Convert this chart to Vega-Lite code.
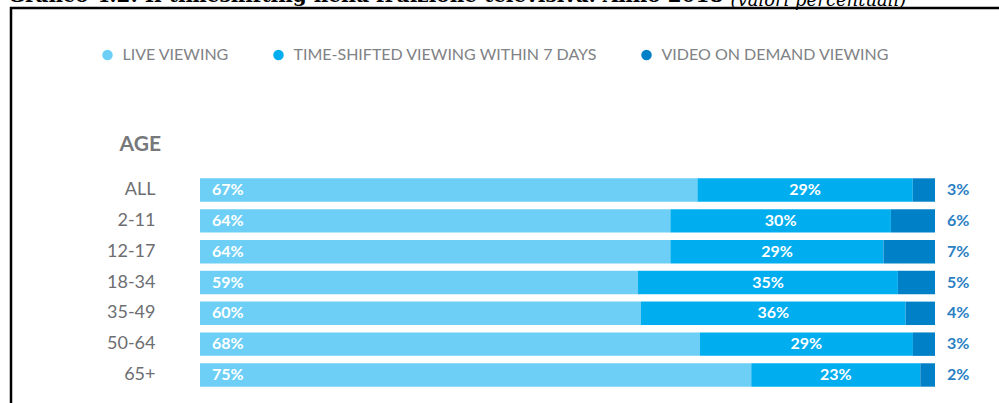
{
  "$schema": "https://vega.github.io/schema/vega-lite/v6.json",
  "autosize": {"type": "none"},
  "padding": {"left": 11, "top": 8, "right": -12, "bottom": -25},
  "width": 1000,
  "height": 420,
  "background": "white",
  "title": {
    "text": "Grafico 4.2: Il timeshifting nella fruizione televisiva. Anno 2018",
    "anchor": "start",
    "frame": "group",
    "font": "DejaVu Serif",
    "fontSize": 20,
    "fontWeight": "bold",
    "color": "#000000",
    "baseline": "alphabetic",
    "offset": -31,
    "dx": -3
  },
  "data": {
    "values": [
      {"age": "ALL", "category": "LIVE VIEWING", "pct": 0.67},
      {"age": "ALL", "category": "TIME-SHIFTED VIEWING WITHIN 7 DAYS", "pct": 0.29},
      {"age": "ALL", "category": "VIDEO ON DEMAND VIEWING", "pct": 0.03},
      {"age": "2-11", "category": "LIVE VIEWING", "pct": 0.64},
      {"age": "2-11", "category": "TIME-SHIFTED VIEWING WITHIN 7 DAYS", "pct": 0.30},
      {"age": "2-11", "category": "VIDEO ON DEMAND VIEWING", "pct": 0.06},
      {"age": "12-17", "category": "LIVE VIEWING", "pct": 0.64},
      {"age": "12-17", "category": "TIME-SHIFTED VIEWING WITHIN 7 DAYS", "pct": 0.29},
      {"age": "12-17", "category": "VIDEO ON DEMAND VIEWING", "pct": 0.07},
      {"age": "18-34", "category": "LIVE VIEWING", "pct": 0.59},
      {"age": "18-34", "category": "TIME-SHIFTED VIEWING WITHIN 7 DAYS", "pct": 0.35},
      {"age": "18-34", "category": "VIDEO ON DEMAND VIEWING", "pct": 0.05},
      {"age": "35-49", "category": "LIVE VIEWING", "pct": 0.60},
      {"age": "35-49", "category": "TIME-SHIFTED VIEWING WITHIN 7 DAYS", "pct": 0.36},
      {"age": "35-49", "category": "VIDEO ON DEMAND VIEWING", "pct": 0.04},
      {"age": "50-64", "category": "LIVE VIEWING", "pct": 0.68},
      {"age": "50-64", "category": "TIME-SHIFTED VIEWING WITHIN 7 DAYS", "pct": 0.29},
      {"age": "50-64", "category": "VIDEO ON DEMAND VIEWING", "pct": 0.03},
      {"age": "65+", "category": "LIVE VIEWING", "pct": 0.75},
      {"age": "65+", "category": "TIME-SHIFTED VIEWING WITHIN 7 DAYS", "pct": 0.23},
      {"age": "65+", "category": "VIDEO ON DEMAND VIEWING", "pct": 0.02}
    ]
  },
  "encoding": {
    "y": {
      "field": "age",
      "type": "nominal",
      "sort": ["ALL", "2-11", "12-17", "18-34", "35-49", "50-64", "65+"],
      "scale": {"range": [166.6, 382.4], "paddingInner": 0.24, "paddingOuter": 0.12},
      "axis": {
        "title": "AGE",
        "titleAngle": 0,
        "titleAlign": "left",
        "titleBaseline": "middle",
        "titleX": -36,
        "titleY": 136,
        "titleFont": "Lato",
        "titleFontSize": 21,
        "titleFontWeight": "bold",
        "titleColor": "#77787b",
        "offset": -144,
        "domain": false,
        "ticks": false,
        "tickSize": 0,
        "labelPadding": 0,
        "labelFont": "Lato",
        "labelFontSize": 18,
        "labelColor": "#6d6e71",
        "grid": false
      }
    }
  },
  "layer": [
    {
      "mark": {"type": "bar"},
      "encoding": {
        "x": {
          "field": "pct",
          "type": "quantitative",
          "stack": "normalize",
          "scale": {"domain": [-0.257143, 1.103401], "nice": false, "zero": false},
          "axis": {
            "orient": "top",
            "title": "(valori percentuali)",
            "titleFont": "DejaVu Serif",
            "titleFontStyle": "italic",
            "titleFontWeight": "normal",
            "titleFontSize": 18,
            "titleColor": "#000000",
            "titleAlign": "left",
            "titleBaseline": "alphabetic",
            "titleAnchor": "start",
            "titleX": 719,
            "titleY": -3,
            "labels": false,
            "ticks": false,
            "domain": false,
            "grid": false
          }
        },
        "color": {
          "field": "category",
          "type": "nominal",
          "scale": {
            "domain": ["LIVE VIEWING", "TIME-SHIFTED VIEWING WITHIN 7 DAYS", "VIDEO ON DEMAND VIEWING"],
            "range": ["#6dcff6", "#00aeef", "#0080c6"]
          },
          "legend": {
            "title": null,
            "orient": "none",
            "direction": "horizontal",
            "legendX": 88.5,
            "legendY": 39,
            "padding": 0,
            "symbolType": "circle",
            "symbolSize": 110,
            "symbolStrokeWidth": 0,
            "labelFont": "Lato",
            "labelFontSize": 16,
            "labelColor": "#808285",
            "labelOffset": 7,
            "columnPadding": 41,
            "labelLimit": 400
          }
        },
        "order": {"field": "category", "type": "nominal", "sort": "ascending"}
      }
    },
    {
      "transform": [{"filter": "datum.category === 'LIVE VIEWING'"}],
      "mark": {"type": "text", "align": "left", "baseline": "middle", "dx": 12, "font": "Lato", "fontSize": 16, "fontWeight": "bold", "color": "white"},
      "encoding": {
        "x": {"datum": 0, "type": "quantitative"},
        "text": {"field": "pct", "type": "quantitative", "format": ".0%"}
      }
    },
    {
      "mark": {"type": "text", "align": "center", "baseline": "middle", "font": "Lato", "fontSize": 16, "fontWeight": "bold", "color": "white"},
      "encoding": {
        "x": {"field": "pct", "type": "quantitative", "stack": "normalize", "bandPosition": 0.5},
        "detail": {"field": "category", "type": "nominal"},
        "order": {"field": "category", "type": "nominal", "sort": "ascending"},
        "text": {"field": "pct", "type": "quantitative", "format": ".0%"},
        "opacity": {"condition": {"test": "datum.category === 'TIME-SHIFTED VIEWING WITHIN 7 DAYS'", "value": 1}, "value": 0}
      }
    },
    {
      "transform": [{"filter": "datum.category === 'VIDEO ON DEMAND VIEWING'"}],
      "mark": {"type": "text", "align": "left", "baseline": "middle", "dx": 12, "font": "Lato", "fontSize": 16, "fontWeight": "bold", "color": "#2b7fc3"},
      "encoding": {
        "x": {"datum": 1, "type": "quantitative"},
        "text": {"field": "pct", "type": "quantitative", "format": ".0%"}
      }
    }
  ],
  "config": {
    "view": {"stroke": "#000000", "strokeWidth": 2.5}
  }
}
